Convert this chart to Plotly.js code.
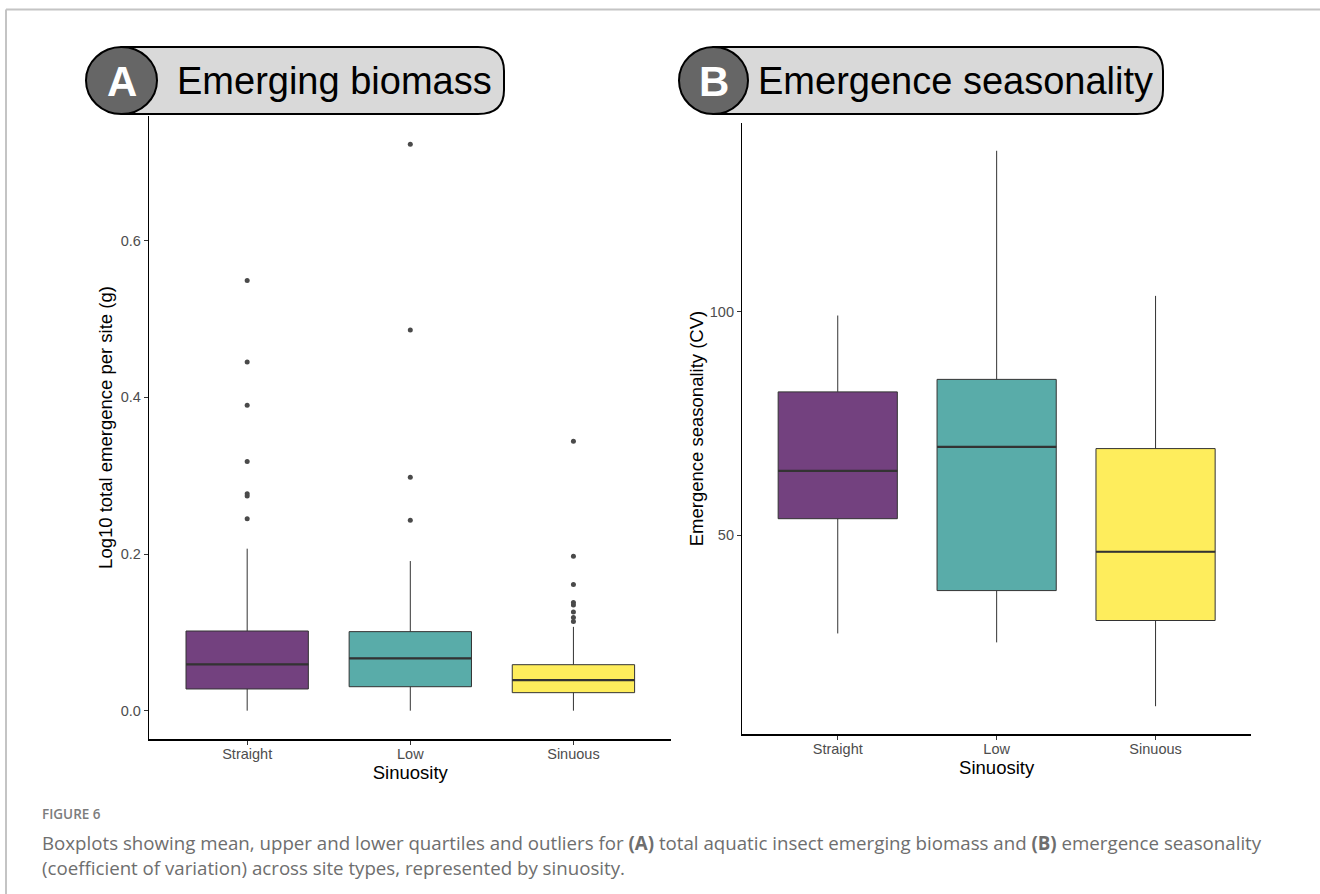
<!DOCTYPE html>
<html>
<head>
<meta charset="utf-8">
<script src="https://cdn.plot.ly/plotly-3.0.1.min.js"></script>
<style>
  html, body { margin: 0; padding: 0; background: #ffffff; }
  #fig { width: 1320px; height: 894px; }
</style>
</head>
<body>
<div id="fig"></div>
<script>
// Site types (x categories)
const sinuosity = ['Straight', 'Low', 'Sinuous'];

// Panel A: log10 total emergence per site (g)
const biomassQ1 = [0.0277, 0.0306, 0.0230];
const biomassMedian = [0.0591, 0.0668, 0.0391];
const biomassQ3 = [0.1017, 0.1009, 0.0587];
const biomassLower = [0.0, 0.0, 0.0];
const biomassUpper = [0.2068, 0.1910, 0.1070];
const biomassOutStraight = [0.549, 0.445, 0.390, 0.318, 0.277, 0.274, 0.245];
const biomassOutLow = [0.723, 0.486, 0.298, 0.243];
const biomassOutSinuous = [0.344, 0.197, 0.161, 0.138, 0.135, 0.126, 0.119, 0.114];
const biomassTicks = [0.0, 0.2, 0.4, 0.6];

// Panel B: emergence seasonality (coefficient of variation)
const seasonQ1 = [53.7, 37.6, 30.9];
const seasonMedian = [64.4, 69.8, 46.3];
const seasonQ3 = [82.1, 84.9, 69.4];
const seasonLower = [28.0, 26.0, 11.7];
const seasonUpper = [99.2, 136.1, 103.6];
const seasonTicks = [50, 100];

// viridis fills at 75% opacity
const fills = ['rgba(68,1,84,0.75)', 'rgba(33,144,140,0.75)', 'rgba(253,231,37,0.75)'];

const W = 1320, H = 894;
const px = x => x / W;
const py = y => 1 - y / H;

const BOX_W = 0.75;
const traces = [];

function addPanel(xa, ya, q1, med, q3, lo, hi, outliers) {
  sinuosity.forEach((name, i) => {
    traces.push({
      type: 'box', x: [i], q1: [q1[i]], median: [med[i]], q3: [q3[i]],
      lowerfence: [lo[i]], upperfence: [hi[i]],
      width: BOX_W, whiskerwidth: 0, boxpoints: false,
      fillcolor: fills[i], line: { color: '#333333', width: 1 },
      xaxis: xa, yaxis: ya, hoverinfo: 'skip', showlegend: false
    });
    // heavier median bar
    traces.push({
      type: 'scatter', mode: 'lines',
      x: [i - BOX_W / 2, i + BOX_W / 2], y: [med[i], med[i]],
      line: { color: '#333333', width: 2.2 },
      xaxis: xa, yaxis: ya, hoverinfo: 'skip', showlegend: false
    });
    if (outliers && outliers[i].length) {
      traces.push({
        type: 'scatter', mode: 'markers',
        x: outliers[i].map(() => i), y: outliers[i],
        marker: { color: '#4a4a4a', size: 5 },
        xaxis: xa, yaxis: ya, hoverinfo: 'skip', showlegend: false
      });
    }
  });
}

addPanel('x', 'y', biomassQ1, biomassMedian, biomassQ3, biomassLower, biomassUpper,
  [biomassOutStraight, biomassOutLow, biomassOutSinuous]);
addPanel('x2', 'y2', seasonQ1, seasonMedian, seasonQ3, seasonLower, seasonUpper, null);

// y ranges padded by 5% of the data span
function padRange(values) {
  const lo = Math.min(...values), hi = Math.max(...values);
  const pad = (hi - lo) * 0.05;
  return [lo - pad, hi + pad];
}
const biomassRange = padRange([].concat(biomassLower, biomassUpper,
  biomassOutStraight, biomassOutLow, biomassOutSinuous));
const seasonRange = padRange([].concat(seasonLower, seasonUpper));

const tickFont = { family: 'Liberation Sans, Arial, sans-serif', size: 14.5, color: '#4d4d4d' };
const titleFont = { family: 'Liberation Sans, Arial, sans-serif', size: 18.5, color: '#000000' };

function xAxis(domain) {
  return {
    domain: domain, range: [-0.6, sinuosity.length - 0.4], type: 'linear',
    tickmode: 'array', tickvals: sinuosity.map((_, i) => i), ticktext: sinuosity,
    showgrid: false, zeroline: false, showline: true, linecolor: '#000000', linewidth: 1.5,
    ticks: 'outside', ticklen: 4, tickwidth: 1, tickcolor: '#333333',
    tickfont: tickFont, ticklabelstandoff: -3, fixedrange: true, automargin: false,
    title: { text: 'Sinuosity', font: titleFont, standoff: 1 }
  };
}
function yAxis(domain, range, ticks, fmt, title, standoff) {
  return {
    domain: domain, range: range, type: 'linear',
    tickmode: 'array', tickvals: ticks, ticktext: ticks.map(fmt),
    showgrid: false, zeroline: false, showline: true, linecolor: '#000000', linewidth: 1.5,
    ticks: 'outside', ticklen: 4, tickwidth: 1, tickcolor: '#333333',
    tickfont: tickFont, fixedrange: true, automargin: false,
    title: { text: title, font: titleFont, standoff: standoff }
  };
}

// rounded label tab with a dark disc at its left end
function tab(cx0, cx1, right, top, bottom) {
  const r = 26, rv = 24;
  const left = (cx0 + cx1) / 2;
  const path = 'M' + px(left) + ',' + py(top) +
    ' L' + px(right - r) + ',' + py(top) +
    ' Q' + px(right) + ',' + py(top) + ' ' + px(right) + ',' + py(top + rv) +
    ' L' + px(right) + ',' + py(bottom - rv) +
    ' Q' + px(right) + ',' + py(bottom) + ' ' + px(right - r) + ',' + py(bottom) +
    ' L' + px(left) + ',' + py(bottom) + ' Z';
  return [
    { type: 'path', xref: 'paper', yref: 'paper', path: path,
      fillcolor: '#d9d9d9', line: { color: '#000000', width: 2 }, layer: 'above' },
    { type: 'circle', xref: 'paper', yref: 'paper',
      x0: px(cx0), x1: px(cx1), y0: py(bottom), y1: py(top),
      fillcolor: '#666666', line: { color: '#000000', width: 2 }, layer: 'above' }
  ];
}

const shapes = [].concat(
  [
    { type: 'line', xref: 'paper', yref: 'paper', x0: px(6), x1: 1, y0: py(9.5), y1: py(9.5),
      line: { color: '#c4c4c4', width: 2 } },
    { type: 'line', xref: 'paper', yref: 'paper', x0: px(6), x1: px(6), y0: py(9.5), y1: 0,
      line: { color: '#c4c4c4', width: 2 } }
  ],
  tab(86, 157, 504, 47, 114),
  tab(679, 748, 1163, 47, 114)
);

const capColor = '#6e6e6e';
const annotations = [
  { text: '<b>A</b>', x: px(121.5), y: py(81), xref: 'paper', yref: 'paper',
    xanchor: 'center', yanchor: 'middle', showarrow: false,
    font: { family: 'Liberation Sans, Arial, sans-serif', size: 42, color: '#ffffff' } },
  { text: 'Emerging biomass', x: px(175), y: py(81), xref: 'paper', yref: 'paper',
    xanchor: 'left', yanchor: 'middle', showarrow: false,
    font: { family: 'Liberation Sans, Arial, sans-serif', size: 38, color: '#000000' } },
  { text: '<b>B</b>', x: px(713.5), y: py(81), xref: 'paper', yref: 'paper',
    xanchor: 'center', yanchor: 'middle', showarrow: false,
    font: { family: 'Liberation Sans, Arial, sans-serif', size: 42, color: '#ffffff' } },
  { text: 'Emergence seasonality', x: px(756), y: py(81), xref: 'paper', yref: 'paper',
    xanchor: 'left', yanchor: 'middle', showarrow: false,
    font: { family: 'Liberation Sans, Arial, sans-serif', size: 38, color: '#000000' } },
  { text: 'FIGURE 6', x: px(40), y: py(814), xref: 'paper', yref: 'paper',
    xanchor: 'left', yanchor: 'middle', showarrow: false,
    font: { family: 'Open Sans, sans-serif', size: 13.5, color: '#7c7c7c', weight: 600 } },
  { text: 'Boxplots showing mean, upper and lower quartiles and outliers for <b>(A)</b> total aquatic insect emerging biomass and <b>(B)</b> emergence seasonality',
    x: px(40), y: py(842), xref: 'paper', yref: 'paper',
    xanchor: 'left', yanchor: 'middle', showarrow: false,
    font: { family: 'Open Sans, sans-serif', size: 18.7, color: capColor } },
  { text: '(coefficient of variation) across site types, represented by sinuosity.',
    x: px(40), y: py(867), xref: 'paper', yref: 'paper',
    xanchor: 'left', yanchor: 'middle', showarrow: false,
    font: { family: 'Open Sans, sans-serif', size: 18.7, color: capColor } }
];

const layout = {
  width: W, height: H,
  margin: { l: 0, r: 0, t: 0, b: 0 },
  paper_bgcolor: '#ffffff', plot_bgcolor: '#ffffff',
  showlegend: false, hovermode: false, boxmode: 'overlay',
  xaxis: Object.assign(xAxis([px(149.3), px(671.3)]), { anchor: 'y' }),
  yaxis: Object.assign(yAxis([py(739), py(116)], biomassRange, biomassTicks,
    v => v.toFixed(1), 'Log10 total emergence per site (g)', 3), { anchor: 'x' }),
  xaxis2: Object.assign(xAxis([px(742.4), px(1250.9)]), { anchor: 'y2' }),
  yaxis2: Object.assign(yAxis([py(734), py(123)], seasonRange, seasonTicks,
    v => String(v), 'Emergence seasonality (CV)', 1), { anchor: 'x2' }),
  shapes: shapes,
  annotations: annotations
};

Plotly.newPlot('fig', traces, layout, { staticPlot: true, displayModeBar: false });
</script>
</body>
</html>
